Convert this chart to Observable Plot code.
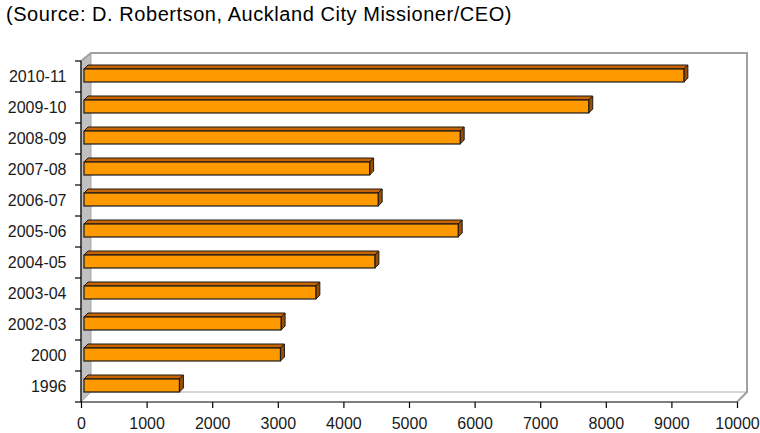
<!DOCTYPE html>
<html><head><meta charset="utf-8">
<script src="https://cdn.jsdelivr.net/npm/d3@7"></script>
<script src="https://cdn.jsdelivr.net/npm/@observablehq/plot@0.6"></script>
<style>
body{margin:0;background:#fff;font-family:"Liberation Sans",Arial,sans-serif;}
#title{height:40px;font-size:20px;letter-spacing:0.55px;padding-left:6px;line-height:20px;padding-top:4px;box-sizing:border-box;color:#000;white-space:nowrap;}
#chart svg{display:block;}
</style></head><body>
<div id="title">(Source: D. Robertson, Auckland City Missioner/CEO)</div>
<div id="chart"></div>
<script>
const years = ["2010-11","2009-10","2008-09","2007-08","2006-07","2005-06","2004-05","2003-04","2002-03","2000","1996"];
const values = [9190,7740,5780,4400,4530,5750,4480,3580,3050,3040,1500];
const xTicks = [0,1000,2000,3000,4000,5000,6000,7000,8000,9000,10000];
const xDomain = [0,10000];

const data = years.map((year,i)=>({year, value: values[i]}));

const backdrop = (index, scales, vals, dims) => {
  const {width, height, marginLeft, marginRight, marginTop, marginBottom} = dims;
  const x0 = marginLeft, x1 = width - marginRight, y0 = marginTop, y1 = height - marginBottom;
  const dx = 10, dy = 8, dyb = 10;
  const g = d3.create("svg:g");
  g.append("path").attr("d", `M${x0},${y0}L${x0+dx},${y0-dy}L${x0+dx},${y1-dyb}L${x0},${y1}Z`)
    .attr("fill","#c0c0c0").attr("stroke","#a8a8a8").attr("stroke-width",1);
  g.append("path").attr("d", `M${x0+dx},${y1-dyb}H${x1+dx}`).attr("stroke","#c8c8c8").attr("stroke-width",1.5).attr("fill","none");
  g.append("path").attr("d", `M${x0},${y0}L${x0+dx},${y0-dy}H${x1+dx}V${y1-dyb}L${x1},${y1}`)
    .attr("stroke","#a0a0a0").attr("stroke-width",2).attr("fill","none");
  g.append("path").attr("d", `M${x0},${y0}V${y1}H${x1}`).attr("stroke","#000").attr("stroke-width",1.2).attr("fill","none");
  const n = years.length;
  const step = (y1 - y0) / n;
  for (let i = 0; i <= n; i++) {
    const yy = y0 + i * step;
    g.append("path").attr("d", `M${x0-6},${yy}H${x0}`).attr("stroke","#000").attr("stroke-width",1.2);
  }
  return g.node();
};

// top and side faces of each bar, positioned through Plot's scales
const faces = (index, scales) => {
  const x = scales.x, y = scales.y;
  const bw = typeof y.bandwidth === "function" ? y.bandwidth() : y.bandwidth;
  const d = 4, inset = 3, shift = -1;
  const g = d3.create("svg:g").attr("stroke", "#1a1a1a").attr("stroke-width", 1).attr("stroke-linejoin", "round");
  for (const row of data) {
    const xa = x(0) + inset, xb = x(row.value);
    const yt = y(row.year) + shift, ybm = yt + bw;
    g.append("path").attr("fill", "#c86400")
      .attr("d", `M${xa},${yt}L${xa+d},${yt-d}H${xb+d}L${xb},${yt}Z`);
    g.append("path").attr("fill", "#9a4e00")
      .attr("d", `M${xb},${yt}L${xb+d},${yt-d}V${ybm-d}L${xb},${ybm}Z`);
  }
  return g.node();
};

const chart = Plot.plot({
  width: 760,
  height: 393,
  marginLeft: 81,
  marginRight: 23,
  marginTop: 21,
  marginBottom: 31,
  style: {fontFamily: "'Liberation Sans', Arial, sans-serif", color: "#1a1a1a", background: "#fff"},
  x: {domain: xDomain, ticks: xTicks, label: null},
  y: {domain: years, paddingInner: 0.58, paddingOuter: 0.29, label: null},
  marks: [
    backdrop,
    faces,
    Plot.barX(data, {y: "year", x: "value", fill: "#ff9900", stroke: "#1a1a1a", strokeWidth: 1.2, insetLeft: 3, dy: -1}),
    Plot.axisX({ticks: xTicks, tickSize: 6, tickPadding: 9, tickFormat: "d", fontSize: 16, stroke: "#000", strokeWidth: 1.2, label: null}),
    Plot.axisY({tickSize: 0, tickPadding: 15, fontSize: 16, label: null})
  ]
});
document.getElementById("chart").appendChild(chart);
</script>
</body></html>
